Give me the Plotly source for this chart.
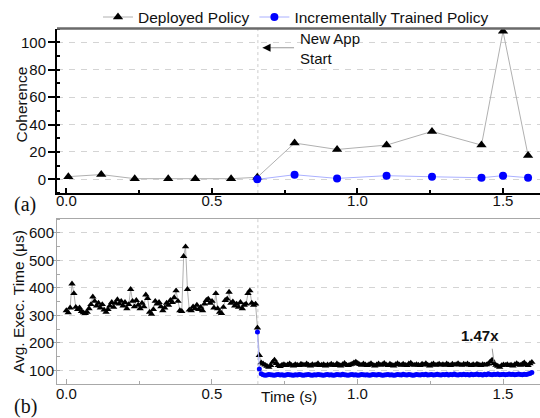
import plotly.graph_objects as go

# ---------------- data ----------------
# (a) coherence
coh_time = [0.007, 0.12, 0.235, 0.35, 0.443, 0.566, 0.656, 0.784, 0.93, 1.10, 1.256, 1.426, 1.50, 1.586]
coh_deployed = [2, 3.5, 0.5, 0.5, 0.5, 0.5, 1.5, 26.5, 21.8, 25, 35, 25, 108, 17.5]
coh_inc_time = [0.656, 0.784, 0.93, 1.10, 1.256, 1.426, 1.50, 1.586]
coh_incremental = [0, 3.4, 0.7, 2.7, 1.9, 1.2, 2.7, 1.2]

# (b) average execution time, sampled every DT seconds
DT = 0.0065
exec_deployed_before = [
    318, 310, 328, 415, 380, 330, 322, 328, 315, 310, 308, 312, 325, 340, 368, 352,
    335, 345, 328, 340, 320, 312, 322, 335, 348, 330, 345, 358, 342, 352, 335, 348,
    325, 340, 395, 352, 332, 355, 338, 325, 345, 332, 375, 362, 312, 305, 322, 352,
    342, 348, 332, 318, 328, 345, 338, 355, 348, 365, 390, 352, 318, 315, 515, 550,
    395, 320, 318, 332, 325, 338, 322, 330, 318, 342, 355, 360, 345, 352, 328, 380,
    325, 312, 308, 330, 355, 360, 385, 345, 350, 335, 342, 330, 348, 325, 338, 342,
    380, 390, 345, 338, 342,
]
exec_deployed_after = [
    255, 155,
    128, 124, 120, 116, 112, 118, 130, 138, 126, 118, 115, 120,
    122, 118, 121, 124, 119, 117, 122, 120, 118, 123, 121, 119,
    124, 120, 117, 122, 119, 121, 125, 118, 120, 122, 117, 121,
    119, 123, 120, 118, 124, 121, 117, 122, 126, 120, 118, 121,
    123, 128, 131, 126, 122, 119, 124, 121, 118, 122, 125, 120,
    117, 121, 124, 119, 122, 126, 121, 118, 123, 120, 117, 122,
    125, 121, 119, 123, 120, 118, 124, 127, 121, 119, 122, 120,
    118, 123, 121, 125, 120, 117, 122, 124, 119, 121, 123, 120,
    122, 119, 124, 121, 118, 123, 120, 122, 125, 121, 119, 123,
    121, 124, 120, 118, 122, 119, 123, 121, 118, 122, 120, 121,
    124, 132, 138, 126, 119, 116, 112, 118, 121, 119, 122, 118,
    120, 117, 122, 125, 121, 119, 123, 128, 121, 118, 125, 130,
]
exec_incremental = [
    240, 105,
    88, 84, 82, 83, 85, 84, 83, 82, 84, 85, 83, 84,
    82, 83, 85, 84, 83, 82, 84, 83, 85, 84, 82, 83,
    84, 85, 83, 82, 84, 83, 85, 84, 83, 82, 84, 85,
    83, 84, 82, 83, 85, 84, 83, 86, 84, 83, 82, 84,
    85, 83, 84, 82, 83, 85, 84, 83, 84, 82, 83, 85,
    84, 83, 85, 84, 82, 83, 84, 85, 83, 84, 82, 83,
    85, 84, 83, 86, 84, 83, 85, 84, 82, 83, 85, 84,
    83, 85, 84, 86, 83, 84, 85, 83, 84, 86, 84, 83,
    85, 84, 86, 83, 85, 84, 87, 84, 83, 85, 84, 86,
    84, 85, 83, 86, 84, 85, 87, 84, 85, 83, 86, 84,
    88, 85, 84, 86, 85, 87, 84, 85, 86, 84, 85, 87,
    85, 86, 84, 85, 87, 85, 84, 86, 85, 87, 89, 92,
]
exec_deployed = exec_deployed_before + exec_deployed_after
exec_time = [round(i * DT, 4) for i in range(len(exec_deployed))]
start_idx = len(exec_deployed_before)
exec_inc_time = exec_time[start_idx:start_idx + len(exec_incremental)]

new_app_start = 0.658
speedup_label = "1.47x"

# ---------------- figure ----------------
FONT = "Liberation Sans, Arial, sans-serif"
SERIF = "Liberation Serif, Times New Roman, serif"
GRAY_LINE = "#b0b0b0"
BLUE_LINE = "#aab0ff"
W, H = 540.0, 418.0
ML = 57.0
PW = W - ML


def py(px):
    return 1 - px / H


def pxx(px):
    return (px - ML) / PW


fig = go.Figure()

fig.add_trace(go.Scatter(
    x=coh_time, y=coh_deployed, mode="lines+markers", name="Deployed Policy",
    line=dict(color=GRAY_LINE, width=1),
    marker=dict(symbol="triangle-up", size=9, color="black"),
    xaxis="x", yaxis="y"))
fig.add_trace(go.Scatter(
    x=coh_inc_time, y=coh_incremental, mode="lines+markers", name="Incrementally Trained Policy",
    line=dict(color=BLUE_LINE, width=1),
    marker=dict(symbol="circle", size=8, color="#0000ff"),
    xaxis="x", yaxis="y"))

fig.add_trace(go.Scatter(
    x=exec_time, y=exec_deployed, mode="lines+markers", showlegend=False,
    line=dict(color=GRAY_LINE, width=1),
    marker=dict(symbol="triangle-up", size=6.5, color="black"),
    xaxis="x2", yaxis="y2"))
fig.add_trace(go.Scatter(
    x=exec_inc_time, y=exec_incremental, mode="lines+markers", showlegend=False,
    line=dict(color=BLUE_LINE, width=1),
    marker=dict(symbol="circle", size=5, color="#0000ff"),
    xaxis="x2", yaxis="y2"))

xr = [-0.032, 1.627]
common_x = dict(range=xr, dtick=0.5, tick0=0, tickformat=".1f", showgrid=False, zeroline=False,
                ticks="inside", ticklen=5, tickfont=dict(size=15, color="#111"))
common_y = dict(showgrid=True, gridcolor="#d4d4d4", griddash="6px,6px", gridwidth=1, zeroline=False,
                ticks="outside", tickfont=dict(size=15, color="#111"))

fig.update_layout(
    width=540, height=418,
    margin=dict(l=ML, r=0, t=0, b=0),
    plot_bgcolor="white", paper_bgcolor="white",
    font=dict(family=FONT, size=15, color="#111"),
    showlegend=True,
    legend=dict(orientation="h", x=pxx(98), xanchor="left", y=py(15.5), yanchor="middle",
                font=dict(size=15.5), bgcolor="rgba(0,0,0,0)", itemwidth=30,
                tracegroupgap=0),
    xaxis=dict(domain=[0, 1], anchor="y", **common_x, ticklabelstandoff=-7,
               showline=True, linecolor="black", linewidth=2, tickcolor="black", tickwidth=2,
               minor=dict(dtick=0.25, ticks="inside", ticklen=3, tickcolor="black", tickwidth=1.5)),
    yaxis=dict(domain=[py(192), py(26.7)], anchor="x", range=[-10, 110], dtick=20, **common_y,
               ticklen=7, ticklabelstandoff=-1,
               showline=True, linecolor="black", linewidth=2, tickcolor="black", tickwidth=1.5,
               minor=dict(dtick=10, ticks="inside", ticklen=3, tickcolor="black", tickwidth=1.5)),
    xaxis2=dict(domain=[0, 1], anchor="y2", **common_x, ticklabelstandoff=-4,
                showline=True, mirror=True, linecolor="#a8a8a8", linewidth=1, tickcolor="#a8a8a8",
                minor=dict(dtick=0.25, ticks="inside", ticklen=3, tickcolor="#a8a8a8")),
    yaxis2=dict(domain=[py(384), py(218.3)], anchor="x2", range=[50, 650], dtick=100, **common_y,
                ticklen=4, ticklabelstandoff=-5,
                showline=True, mirror=True, linecolor="#a8a8a8", linewidth=1, tickcolor="#a8a8a8",
                minor=dict(dtick=50, ticks="inside", ticklen=3, tickcolor="#a8a8a8")),
)

# top border of panel (a)
fig.add_shape(type="line", xref="x domain", yref="y domain", x0=0, x1=1, y0=1, y1=1,
              line=dict(color="#6a6a6a", width=2.5))
# "New App Start" vertical markers
for xa, ya in (("x", "y domain"), ("x2", "y2 domain")):
    fig.add_shape(type="line", xref=xa, yref=ya, x0=new_app_start, x1=new_app_start, y0=0, y1=1,
                  line=dict(color="#cccccc", width=1, dash="3px,3px"), layer="below")

# axis titles
fig.add_annotation(x=pxx(22), y=py(103), xref="paper", yref="paper", text="Coherence",
                   textangle=-90, showarrow=False, xanchor="center", yanchor="middle",
                   font=dict(size=15.5, color="#111"))
fig.add_annotation(x=pxx(18.5), y=py(301), xref="paper", yref="paper", text="Avg. Exec. Time (μs)",
                   textangle=-90, showarrow=False, xanchor="center", yanchor="middle",
                   font=dict(size=15.5, color="#111"))
fig.add_annotation(x=new_app_start + 0.003, y=py(396.7), xref="x2", yref="paper", text="Time (s)",
                   showarrow=False, xanchor="left", yanchor="middle", font=dict(size=15.5, color="#111"))

# annotations
fig.add_annotation(x=0.674, y=96, xref="x", yref="y", text="", showarrow=True,
                   ax=33, ay=0, arrowhead=0, arrowwidth=1, arrowcolor="#999999")
fig.add_annotation(x=0.674, y=96, xref="x", yref="y", text="", showarrow=True,
                   ax=7, ay=0, arrowhead=2, arrowsize=1.6, arrowwidth=1, arrowcolor="black")
fig.add_annotation(x=0.795, y=95.4, xref="x", yref="y", text="New App<br>Start", showarrow=False,
                   xanchor="left", yanchor="middle", align="left", font=dict(size=15, color="#111"))

fig.add_annotation(x=1.469, y=130, xref="x2", yref="y2", text="", showarrow=True,
                   ax=-2, ay=-15, arrowhead=0, arrowwidth=1, arrowcolor="#999999")
fig.add_annotation(x=1.42, y=227, xref="x2", yref="y2", text="<b>" + speedup_label + "</b>",
                   showarrow=False, font=dict(size=15, color="#111"))

# panel labels
fig.add_annotation(x=pxx(25), y=py(203), xref="paper", yref="paper", text="(a)", showarrow=False,
                   xanchor="center", yanchor="middle", font=dict(family=SERIF, size=20, color="#111"))
fig.add_annotation(x=pxx(25), y=py(406), xref="paper", yref="paper", text="(b)", showarrow=False,
                   xanchor="center", yanchor="middle", font=dict(family=SERIF, size=20, color="#111"))

fig.write_html("out.html")
